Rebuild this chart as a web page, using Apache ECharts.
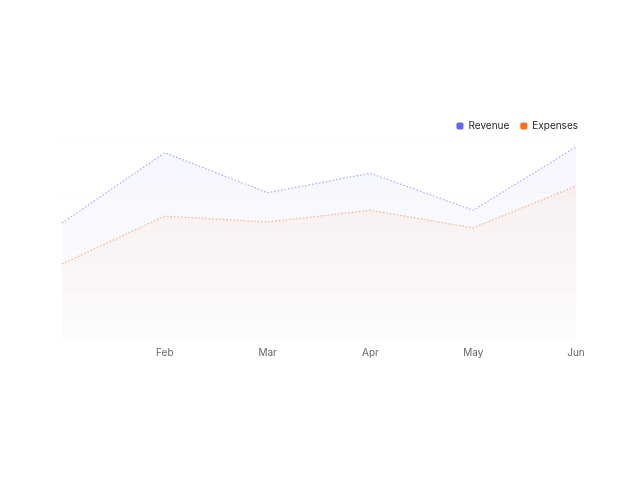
<!DOCTYPE html>
<html>
<head>
<meta charset="utf-8">
<style>
  html, body { margin: 0; padding: 0; background: #fff; }
  #main { width: 640px; height: 480px; }
</style>
<script src="https://cdn.jsdelivr.net/npm/echarts@6/dist/echarts.min.js"></script>
</head>
<body>
<div id="main"></div>
<script>
// data
var months = ['Jan', 'Feb', 'Mar', 'Apr', 'May', 'Jun'];
var revenue = [11800, 19000, 14900, 16900, 13100, 19600];
var expenses = [7600, 12500, 11900, 13100, 11300, 15600];

var myChart = echarts.init(document.getElementById('main'));

function fade(r, g, b) {
    return new echarts.graphic.LinearGradient(0, 0, 0, 1, [
        { offset: 0, color: 'rgba(' + r + ',' + g + ',' + b + ',0.06)' },
        { offset: 1, color: 'rgba(' + r + ',' + g + ',' + b + ',0.01)' }
    ]);
}

var option = {
    animation: false,
    color: ['#6366f1', '#f97316'],
    legend: {
        right: 57,
        top: 116,
        icon: 'roundRect',
        itemWidth: 7,
        itemHeight: 7,
        itemGap: 11,
        textStyle: { fontFamily: 'Inter', fontSize: 10, color: '#222' },
        data: ['Revenue', 'Expenses']
    },
    grid: { left: 62, right: 64, top: 143, bottom: 142 },
    xAxis: {
        type: 'category',
        boundaryGap: false,
        data: months,
        axisLine: { show: false },
        axisTick: { show: false },
        axisLabel: {
            interval: function (i) { return i > 0; },
            color: '#666',
            fontFamily: 'Inter',
            fontSize: 10,
            margin: 10
        }
    },
    yAxis: {
        type: 'value',
        min: 0,
        max: 20000,
        interval: 5000,
        axisLabel: { show: false },
        axisLine: { show: false },
        axisTick: { show: false },
        splitLine: { lineStyle: { color: '#fbfbfb', width: 1 } }
    },
    series: [
        {
            name: 'Revenue',
            type: 'line',
            data: revenue,
            symbol: 'none',
            lineStyle: { width: 1.2, type: [1.5, 2], opacity: 0.55 },
            areaStyle: { color: fade(99, 102, 241), opacity: 1 }
        },
        {
            name: 'Expenses',
            type: 'line',
            data: expenses,
            symbol: 'none',
            lineStyle: { width: 1.2, type: [1.5, 2], opacity: 0.55 },
            areaStyle: { color: fade(249, 115, 22), opacity: 1 }
        }
    ]
};
myChart.setOption(option);
</script>
</body>
</html>
